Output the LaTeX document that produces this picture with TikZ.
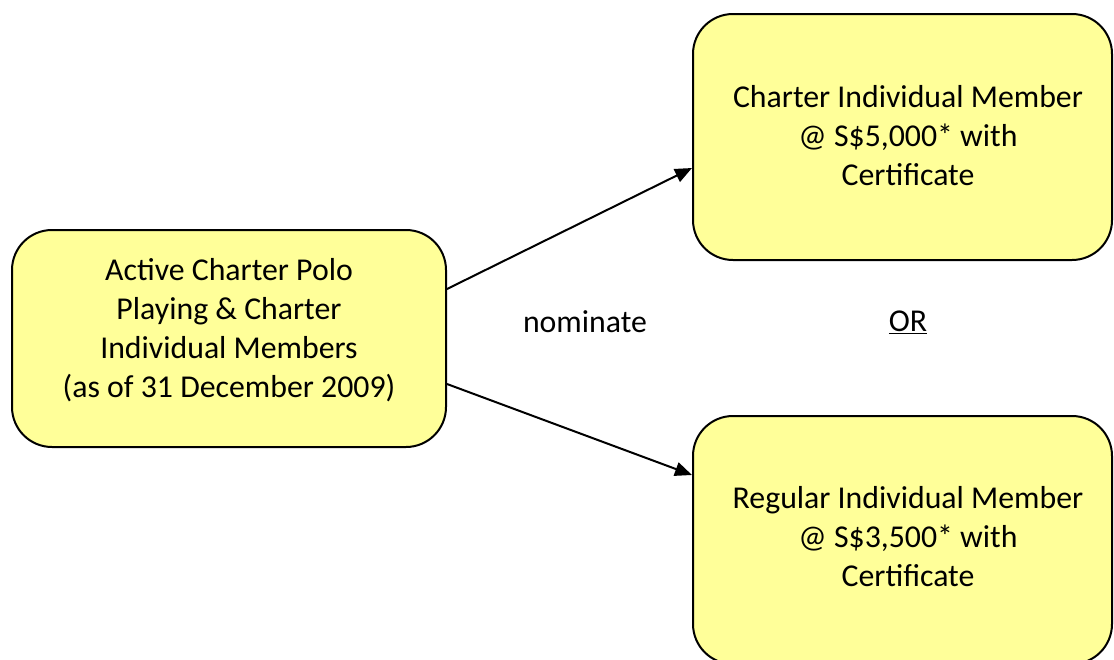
\documentclass[tikz,border=0pt]{standalone}
\usepackage{fontspec}
\setmainfont{Carlito}
\usetikzlibrary{arrows.meta}
\definecolor{boxfill}{RGB}{255,255,153}
\tikzset{
  box/.style={draw=black, line width=2pt, fill=boxfill, rounded corners=40pt, inner sep=0pt},
  boxtext/.style={align=center, font=\fontsize{31.8}{39}\selectfont, inner sep=0pt},
  lbl/.style={font=\fontsize{31.8}{39}\selectfont, inner sep=0pt},
  conn/.style={line width=2pt, -{Triangle[length=17pt,width=14pt]}}
}
\begin{document}
\begin{tikzpicture}[x=1pt,y=-1pt]
\useasboundingbox (0,0) rectangle (1114,659);
\clip (0,0) rectangle (1114,659);
\node[box, minimum width=434pt, minimum height=217pt] (L) at (229,338.5) {};
\node[box, minimum width=419pt, minimum height=246pt] (T) at (902.5,137) {};
\node[box, minimum width=419pt, minimum height=248pt] (B) at (902.5,540) {};
\node[boxtext] (Lt) at (229,330) {Active Charter Polo\\Playing \& Charter\\Individual Members\\(as of 31 December 2009)};
\node[boxtext] (Tt) at (908,136) {Charter Individual Member\\@ S\$5,000* with\\Certificate};
\node[boxtext] (Bt) at (908,537) {Regular Individual Member\\@ S\$3,500* with\\Certificate};
\node[lbl] (nom) at (585,322) {nominate};
\node[lbl] (or) at (908,322) {\underline{OR}};
\draw[conn] ([yshift=-60pt]L.north east) -- ([yshift=-155pt]T.north west);
\draw[conn] ([yshift=-155pt]L.north east) -- ([yshift=-60pt]B.north west);
\end{tikzpicture}
\end{document}
